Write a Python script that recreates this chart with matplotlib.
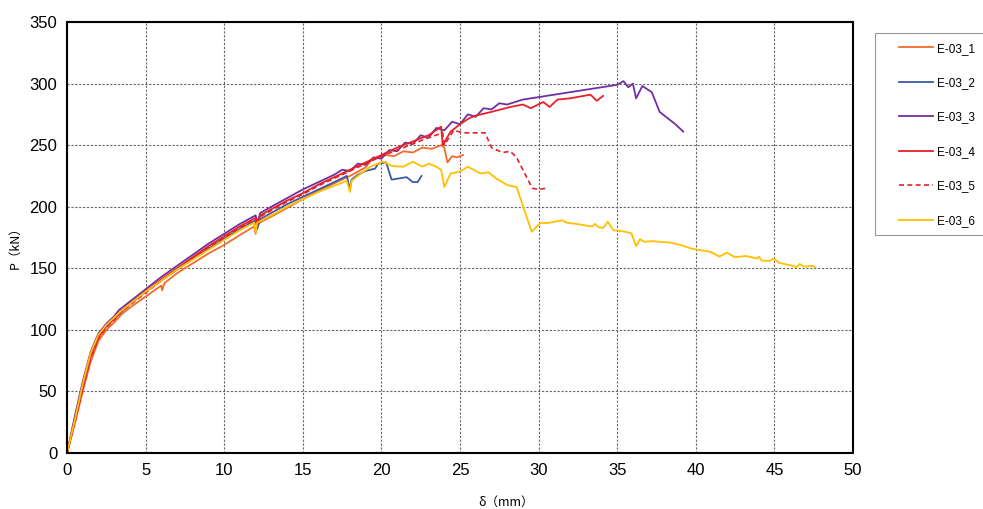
import matplotlib.pyplot as plt
from matplotlib.patches import Rectangle

# E-03_1 (orange)
x1 = [0, 0.5, 1.0, 1.5, 2.0, 2.5, 3.0, 3.5, 4, 5, 6.0, 6.05, 6.2, 7, 8, 9, 10, 11, 11.9, 12.0, 12.1,
      13, 14, 15, 16, 17, 18, 19, 19.3, 19.8, 20.3, 20.8, 21.4, 22.0, 22.6, 23.2, 23.8, 24.0, 24.2,
      24.5, 24.8, 25.2]
y1 = [0, 24, 50, 74, 91, 100, 106, 113, 118, 127, 136, 132, 138, 146, 154, 162, 169, 177, 184, 178, 186,
      192, 199, 206, 213, 219, 225, 232, 237, 240, 242, 241, 245, 244, 248, 247, 250, 248, 236,
      241, 240, 242]

# E-03_2 (blue)
x2 = [0, 0.5, 1, 1.5, 2, 2.5, 3, 3.5, 4, 5, 6, 7, 8, 9, 10, 11, 12.0, 12.1, 12.3, 13, 14, 15, 16, 17,
      17.8, 18.0, 18.1, 18.5, 19, 19.6, 19.8, 20.3, 20.65, 21.6, 22.0, 22.3, 22.55]
y2 = [0, 27, 55, 80, 95, 103, 109, 115, 121, 131, 140, 149, 158, 166, 174, 182, 189, 182, 190, 195, 202,
      208, 214, 220, 225, 214, 222, 226, 229, 231, 235, 236, 222, 224, 220, 220, 225]

# E-03_3 (purple)
x3 = [0, 0.5, 1.0, 1.5, 2.0, 2.5, 3.0, 3.3, 4.0, 5.0, 6.0, 7.0, 8.0, 9.0, 10.0, 11.0, 12.0, 12.1, 12.3,
      13.0, 14.0, 15.0, 16.0, 17.0, 17.5, 18.0, 18.5, 19.0, 19.5, 20.0, 20.5, 21.0, 21.5, 22.0, 22.5,
      23.0, 23.5, 24.0, 24.5, 25.0, 25.5, 26.0, 26.5, 27.0, 27.5, 28.0, 29.0, 30.0, 31.0, 32.0, 33.0,
      34.0, 35.0, 35.4, 35.7, 36.0, 36.2, 36.6, 37.2, 37.7, 38.2, 38.7, 39.2]
y3 = [0, 30, 58, 82, 97, 105, 111, 116, 123, 133, 143, 152, 161, 170, 178, 186, 193, 187, 195,
      200, 207, 214, 220, 226, 230, 229, 235, 234, 240, 239, 246, 245, 252, 251, 258,
      256, 264, 262, 269, 267, 275, 273, 280, 279, 284, 283, 287, 289, 291, 293, 295,
      297, 299, 302, 297, 300, 288, 298, 293, 277, 272, 267, 261]

# E-03_4 (red)
x4 = [0, 0.5, 1.0, 1.5, 2.0, 2.5, 3.0, 3.5, 4.0, 5, 6, 7, 8, 9, 10, 11, 12.0, 12.1, 12.3, 13, 14, 15,
      16, 17, 18, 19, 20, 21, 22, 23, 23.8, 23.9, 24.4, 25.0, 25.6, 26, 27, 28.2, 29.0, 29.5, 30.3,
      30.7, 31.2, 32, 33.3, 33.7, 34.1]
y4 = [0, 26, 53, 78, 94, 103, 109, 116, 121, 131, 141, 150, 159, 168, 176, 184, 191, 186, 193, 198, 205,
      211, 218, 224, 230, 236, 242, 248, 253, 258, 265, 250, 261, 267, 272, 274, 277, 281, 283, 280,
      285, 281, 287, 288, 291, 286, 290]

# E-03_5 (red dashed)
x5 = [0, 0.5, 1.0, 1.5, 2.0, 2.5, 3.0, 3.5, 4, 5, 6, 7, 8, 9, 10, 11, 12.0, 12.1, 12.3, 13, 14, 15, 16,
      17, 18, 19, 20, 21, 22, 23, 23.9, 24.0, 24.6, 25.2, 26.6, 27.0, 27.7, 28.2, 28.6, 29.6, 30.0,
      30.5]
y5 = [0, 25, 52, 77, 93, 102, 108, 115, 120, 130, 140, 149, 158, 167, 175, 183, 190, 185, 192, 197, 204,
      210, 217, 223, 229, 235, 241, 246, 251, 256, 260, 250, 262, 260, 260, 248, 244, 245, 240, 215,
      214, 215]

# E-03_6 (yellow)
x6 = [0, 0.5, 1, 1.5, 2, 2.5, 3, 3.5, 4, 5, 6, 7, 8, 9, 10, 11, 11.9, 12.0, 12.1, 13, 14, 15, 16, 17,
      17.8, 18.0, 18.1, 18.5, 19.3, 20.1, 20.7, 21.4, 22.0, 22.6, 23.0, 23.5, 23.8, 24.0, 24.4, 25.0,
      25.5, 26.3, 26.8, 27.3, 28.0, 28.6, 29.56, 30.1, 30.7, 31.5, 31.8, 32.4, 33.4, 33.6, 33.8, 34.1,
      34.4, 34.75, 35.5, 35.9, 36.2, 36.45, 36.7, 37.3, 38.4, 39.0, 39.8, 40.9, 41.5, 41.97, 42.5,
      43.2, 43.9, 44.0, 44.2, 44.7, 45.0, 45.25, 46.2, 46.4, 46.6, 46.9, 47.4, 47.6]
y6 = [0, 27, 56, 81, 96, 104, 110, 116, 121, 131, 140, 149, 157, 165, 173, 181, 187, 179, 187, 193, 200,
      206, 212, 217, 221, 212, 221, 225, 232.5, 236.6, 233, 232.5, 236.6, 232.5, 235, 232.5, 230, 216,
      227, 228.5, 232.5, 227, 228, 223, 217.6, 216, 179.7, 186.7, 187, 189, 187, 186, 184, 186, 183.5,
      182.7, 187.8, 181, 179.7, 178.4, 168, 173.7, 171.6, 172, 170.8, 169, 165.7, 163.5, 159.5, 162.7,
      159, 160, 158, 159.5, 156.2, 156, 158, 154.6, 151.9, 150.8, 153.5, 151.3, 152, 150.8]

series = [
    ("E-03_1", x1, y1, "#F26B2A", "-"),
    ("E-03_2", x2, y2, "#3A5BAA", "-"),
    ("E-03_3", x3, y3, "#7030A0", "-"),
    ("E-03_4", x4, y4, "#E8202A", "-"),
    ("E-03_5", x5, y5, "#E8202A", "--"),
    ("E-03_6", x6, y6, "#FFC000", "-"),
]

fig = plt.figure(figsize=(9.83, 5.09), dpi=100)
ax = fig.add_axes([67 / 983, 1 - 453 / 509, (853 - 67) / 983, (453 - 22) / 509])

for name, xs, ys, col, ls in series:
    if ls == "--":
        ax.plot(xs, ys, color=col, lw=1.2, ls=(0, (3, 2)), label=name)
    else:
        ax.plot(xs, ys, color=col, lw=1.3, label=name)

ax.set_xlim(0, 50)
ax.set_ylim(0, 350)
ax.set_xticks(range(0, 51, 5))
ax.set_yticks(range(0, 351, 50))
ax.grid(True, color="#666666", ls=(0, (2, 1.5)), lw=0.8)
for sp in ax.spines.values():
    sp.set_linewidth(1.5)
    sp.set_color("black")
ax.tick_params(length=0, labelsize=12, pad=7)
for lab in ax.get_xticklabels() + ax.get_yticklabels():
    lab.set_fontfamily("Liberation Sans")

fig.text(15 / 983, 1 - 245 / 509, "P（kN）", rotation=90, ha="center", va="center",
         fontsize=9, family=["Noto Sans CJK JP", "DejaVu Sans"])
fig.text(506 / 983, 1 - 502 / 509, "δ（mm）", ha="center", va="center",
         fontsize=9, family=["Noto Sans CJK JP", "DejaVu Sans"])

fig.patches.append(Rectangle((875 / 983, 1 - 235 / 509), 0.2, (235 - 33) / 509,
                             transform=fig.transFigure, fill=False, edgecolor="#999999", lw=0.8))
handles, labels = ax.get_legend_handles_labels()
fig.legend(handles, labels, loc="center left", bbox_to_anchor=(893 / 983, 1 - 134.7 / 509),
           frameon=False, borderpad=0, handlelength=2.9, handletextpad=0.35, labelspacing=1.9,
           prop={"family": "Liberation Sans", "size": 8.5})

fig.savefig("out.png", dpi=100)
